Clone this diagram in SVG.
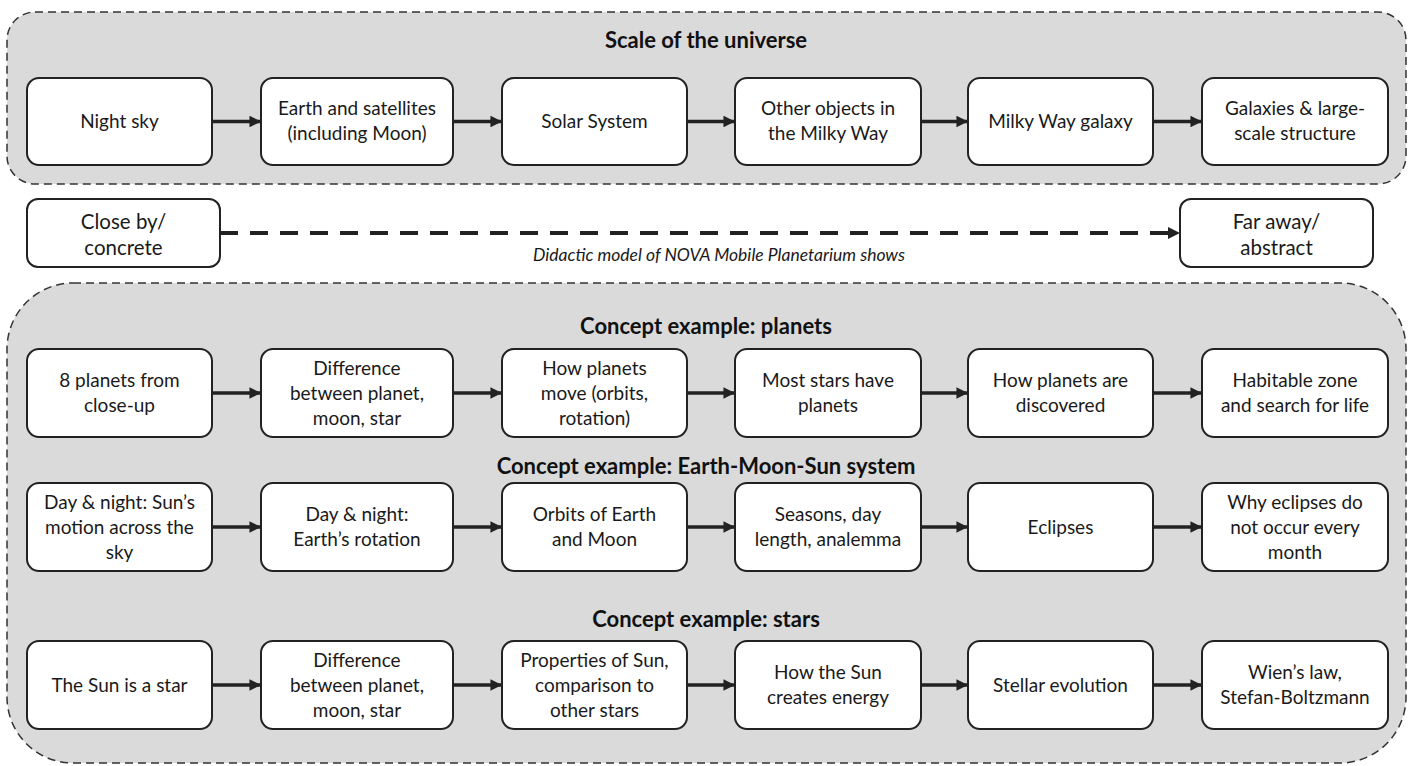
<svg xmlns="http://www.w3.org/2000/svg" width="1411" height="766" viewBox="0 0 1411 766">
<defs>
<marker id="ah" viewBox="0 0 10 10" refX="10" refY="5" markerWidth="4" markerHeight="3.4" markerUnits="strokeWidth" orient="auto"><path d="M0,0 L10,5 L0,10 z" fill="#222"/></marker>
<marker id="ahd" viewBox="0 0 10 10" refX="10" refY="5" markerWidth="3.2" markerHeight="3" markerUnits="strokeWidth" orient="auto"><path d="M0,0 L10,5 L0,10 z" fill="#222"/></marker>
</defs>
<style>
.panel{fill:#dadada;stroke:#333;stroke-width:1.5;stroke-dasharray:8 5}
.node rect{fill:#fff;stroke:#222;stroke-width:2}
.node text{font-family:Lato,"Liberation Sans",sans-serif;font-size:19px;fill:#1a1a1a;text-anchor:middle}
.node text.big{font-size:20.5px}
.title{font-family:Lato,"Liberation Sans",sans-serif;font-size:22px;font-weight:bold;fill:#111;text-anchor:middle}
.it{font-family:Lato,"Liberation Sans",sans-serif;font-size:17.5px;font-style:italic;fill:#1a1a1a;text-anchor:middle}
.arr{stroke:#222;stroke-width:3.4;fill:none;marker-end:url(#ah)}
.darr{stroke:#222;stroke-width:4;fill:none;stroke-dasharray:18 12;marker-end:url(#ahd)}
</style>
<rect width="1411" height="766" fill="#fff"/>
<g id="panel-scale">
<rect class="panel" x="7" y="12" width="1399" height="172" rx="28"/>
<text class="title" x="706" y="48">Scale of the universe</text>
</g>
<g id="panel-concepts">
<rect class="panel" x="7" y="283" width="1399" height="480" rx="66"/>
<text class="title" x="706" y="334">Concept example: planets</text>
<text class="title" x="706" y="474">Concept example: Earth-Moon-Sun system</text>
<text class="title" x="706" y="627">Concept example: stars</text>
</g>

<!-- Row 0 -->
<g id="n-night-sky" class="node"><rect x="27" y="78" width="185" height="87" rx="12"/><text x="119.5" y="128">Night sky</text></g>
<g id="n-earth-satellites" class="node"><rect x="261" y="78" width="192" height="87" rx="12"/><text x="357" y="115">Earth and satellites</text><text x="357" y="140">(including Moon)</text></g>
<g id="n-solar-system" class="node"><rect x="502" y="78" width="185" height="87" rx="12"/><text x="594.5" y="128">Solar System</text></g>
<g id="n-other-objects" class="node"><rect x="735" y="78" width="186" height="87" rx="12"/><text x="828" y="115">Other objects in</text><text x="828" y="140">the Milky Way</text></g>
<g id="n-milky-way" class="node"><rect x="968" y="78" width="185" height="87" rx="12"/><text x="1060.5" y="128">Milky Way galaxy</text></g>
<g id="n-galaxies" class="node"><rect x="1202" y="78" width="186" height="87" rx="12"/><text x="1295" y="115">Galaxies &amp; large-</text><text x="1295" y="140">scale structure</text></g>

<!-- Scale bar -->
<g id="n-close-by" class="node"><rect x="27" y="199" width="193" height="68" rx="11"/><text class="big" x="123.5" y="229">Close by/</text><text class="big" x="123.5" y="255">concrete</text></g>
<g id="n-far-away" class="node"><rect x="1180" y="199" width="193" height="68" rx="11"/><text class="big" x="1276.5" y="229">Far away/</text><text class="big" x="1276.5" y="255">abstract</text></g>
<text class="it" x="719" y="261">Didactic model of NOVA Mobile Planetarium shows</text>

<!-- Row 1 planets -->
<g id="n-8-planets" class="node"><rect x="27" y="349" width="185" height="88" rx="12"/><text x="119.5" y="387">8 planets from</text><text x="119.5" y="412">close-up</text></g>
<g id="n-diff-1" class="node"><rect x="261" y="349" width="192" height="88" rx="12"/><text x="357" y="375">Difference</text><text x="357" y="400">between planet,</text><text x="357" y="425">moon, star</text></g>
<g id="n-how-move" class="node"><rect x="502" y="349" width="185" height="88" rx="12"/><text x="594.5" y="375">How planets</text><text x="594.5" y="400">move (orbits,</text><text x="594.5" y="425">rotation)</text></g>
<g id="n-most-stars" class="node"><rect x="735" y="349" width="186" height="88" rx="12"/><text x="828" y="387">Most stars have</text><text x="828" y="412">planets</text></g>
<g id="n-discovered" class="node"><rect x="968" y="349" width="185" height="88" rx="12"/><text x="1060.5" y="387">How planets are</text><text x="1060.5" y="412">discovered</text></g>
<g id="n-habitable" class="node"><rect x="1202" y="349" width="186" height="88" rx="12"/><text x="1295" y="387">Habitable zone</text><text x="1295" y="412">and search for life</text></g>

<!-- Row 2 Earth-Moon-Sun -->
<g id="n-day-night-sun" class="node"><rect x="27" y="483" width="185" height="88" rx="12"/><text x="119.5" y="509">Day &amp; night: Sun’s</text><text x="119.5" y="534">motion across the</text><text x="119.5" y="559">sky</text></g>
<g id="n-day-night-earth" class="node"><rect x="261" y="483" width="192" height="88" rx="12"/><text x="357" y="521">Day &amp; night:</text><text x="357" y="546">Earth’s rotation</text></g>
<g id="n-orbits" class="node"><rect x="502" y="483" width="185" height="88" rx="12"/><text x="594.5" y="521">Orbits of Earth</text><text x="594.5" y="546">and Moon</text></g>
<g id="n-seasons" class="node"><rect x="735" y="483" width="186" height="88" rx="12"/><text x="828" y="521">Seasons, day</text><text x="828" y="546">length, analemma</text></g>
<g id="n-eclipses" class="node"><rect x="968" y="483" width="185" height="88" rx="12"/><text x="1060.5" y="534">Eclipses</text></g>
<g id="n-why-eclipses" class="node"><rect x="1202" y="483" width="186" height="88" rx="12"/><text x="1295" y="509">Why eclipses do</text><text x="1295" y="534">not occur every</text><text x="1295" y="559">month</text></g>

<!-- Row 3 stars -->
<g id="n-sun-star" class="node"><rect x="27" y="641" width="185" height="88" rx="12"/><text x="119.5" y="692">The Sun is a star</text></g>
<g id="n-diff-2" class="node"><rect x="261" y="641" width="192" height="88" rx="12"/><text x="357" y="667">Difference</text><text x="357" y="692">between planet,</text><text x="357" y="717">moon, star</text></g>
<g id="n-properties" class="node"><rect x="502" y="641" width="185" height="88" rx="12"/><text x="594.5" y="667">Properties of Sun,</text><text x="594.5" y="692">comparison to</text><text x="594.5" y="717">other stars</text></g>
<g id="n-energy" class="node"><rect x="735" y="641" width="186" height="88" rx="12"/><text x="828" y="679">How the Sun</text><text x="828" y="704">creates energy</text></g>
<g id="n-stellar-evo" class="node"><rect x="968" y="641" width="185" height="88" rx="12"/><text x="1060.5" y="692">Stellar evolution</text></g>
<g id="n-wien" class="node"><rect x="1202" y="641" width="186" height="88" rx="12"/><text x="1295" y="679">Wien’s law,</text><text x="1295" y="704">Stefan-Boltzmann</text></g>

<g id="connectors">
<path class="arr" d="M212,121.5 H261"/><path class="arr" d="M453,121.5 H502"/><path class="arr" d="M687,121.5 H735"/><path class="arr" d="M921,121.5 H968"/><path class="arr" d="M1153,121.5 H1202"/>
<path class="darr" d="M220,233 H1180"/>
<path class="arr" d="M212,393 H261"/><path class="arr" d="M453,393 H502"/><path class="arr" d="M687,393 H735"/><path class="arr" d="M921,393 H968"/><path class="arr" d="M1153,393 H1202"/>
<path class="arr" d="M212,527 H261"/><path class="arr" d="M453,527 H502"/><path class="arr" d="M687,527 H735"/><path class="arr" d="M921,527 H968"/><path class="arr" d="M1153,527 H1202"/>
<path class="arr" d="M212,685 H261"/><path class="arr" d="M453,685 H502"/><path class="arr" d="M687,685 H735"/><path class="arr" d="M921,685 H968"/><path class="arr" d="M1153,685 H1202"/>
</g>
</svg>
